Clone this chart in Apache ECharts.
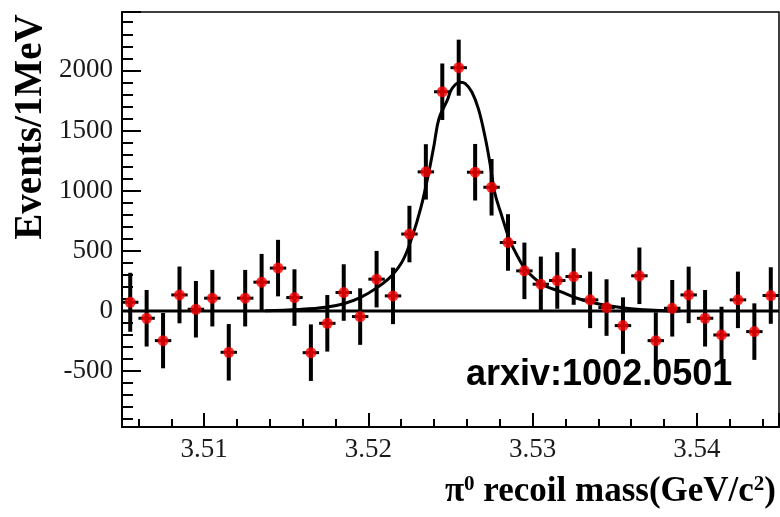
<!DOCTYPE html>
<html>
<head>
<meta charset="utf-8">
<script src="https://cdn.jsdelivr.net/npm/echarts@6/dist/echarts.min.js"></script>
<style>
html,body{margin:0;padding:0;background:#fff;}
#chart{width:780px;height:517px;}
</style>
</head>
<body>
<div id="chart"></div>
<script>
// Bin centres (GeV/c^2), 1 MeV bins
var binCenters = [3.5055,3.5065,3.5075,3.5085,3.5095,3.5105,3.5115,3.5125,3.5135,3.5145,
                  3.5155,3.5165,3.5175,3.5185,3.5195,3.5205,3.5215,3.5225,3.5235,3.5245,
                  3.5255,3.5265,3.5275,3.5285,3.5295,3.5305,3.5315,3.5325,3.5335,3.5345,
                  3.5355,3.5365,3.5375,3.5385,3.5395,3.5405,3.5415,3.5425,3.5435,3.5445];
// Events per 1 MeV
var counts = [72,-61,-247,133,14,106,-344,106,239,356,
              111,-347,-103,153,-47,264,125,639,1156,1822,
              2022,1153,1028,569,333,222,253,286,92,28,
              -122,292,-247,22,133,-61,-200,92,-172,128];
// Statistical errors
var errors = [245,235,230,236,235,235,235,235,235,235,
              235,235,235,235,235,235,235,235,230,235,
              233,235,235,235,235,230,235,235,235,235,
              235,235,235,235,235,235,235,235,235,235];
// Fit curve
var fitX = [3.5137,3.5158,3.5174,3.5185,3.5195,3.5206,3.5214,3.5221,3.5227,3.5232,
            3.5236,3.5240,3.5243,3.5248,3.5251,3.5256,3.5259,3.5263,3.5267,3.5271,
            3.5274,3.5277,3.5281,3.5286,3.5291,3.5296,3.5306,3.5317,3.5327,3.5337,
            3.5347,3.5357,3.5368,3.5381,3.5390];
var fitY = [2,12,30,60,110,200,290,420,630,860,
            1100,1380,1600,1750,1850,1900,1890,1820,1680,1450,
            1230,980,800,590,450,340,220,160,105,68,
            42,22,10,2,0];
var binHalfWidth = 0.0005;
var xRange = [3.505, 3.545];
var yRange = [-965, 2485];
var xTitle = '{b|π}{s|0}{b| recoil mass(GeV/c}{s|2}{b|)}';
var yTitle = 'Events/1MeV';
var watermark = 'arxiv:1002.0501';

var pts = binCenters.map(function(x,i){return [x, counts[i], errors[i]];});
var fit = fitX.map(function(x,i){return [x, fitY[i]];});

var chart = echarts.init(document.getElementById('chart'), null, {renderer:'canvas'});
var serif = 'Liberation Serif';
chart.setOption({
  animation:false,
  backgroundColor:'#fff',
  grid:{left:122, top:12, width:657, height:415, show:true, borderColor:'#000', borderWidth:1.5, backgroundColor:'transparent'},
  xAxis:{
    type:'value', min:xRange[0], max:xRange[1], splitNumber:4,
    axisLine:{onZero:false, lineStyle:{color:'#000', width:2}},
    axisTick:{inside:true, length:14, lineStyle:{color:'#000', width:2}},
    minorTick:{show:true, splitNumber:5, length:8, lineStyle:{color:'#000', width:2}},
    splitLine:{show:false},
    axisLabel:{showMinLabel:false, showMaxLabel:false, margin:9, color:'#1a1a1a', fontFamily:serif, fontSize:27,
      formatter:function(v){return v.toFixed(2);}}
  },
  yAxis:{
    type:'value', min:yRange[0], max:yRange[1], splitNumber:7,
    axisLine:{onZero:false, lineStyle:{color:'#000', width:2}},
    axisTick:{inside:true, length:19, lineStyle:{color:'#000', width:2}},
    minorTick:{show:true, splitNumber:5, length:11, lineStyle:{color:'#000', width:2}},
    splitLine:{show:false},
    axisLabel:{showMinLabel:false, showMaxLabel:false, margin:9, color:'#1a1a1a', fontFamily:serif, fontSize:27,
      formatter:function(v){return String(v);}}
  },
  graphic:[
    {type:'text', x:31, y:127, rotation:Math.PI/2,
     style:{text:yTitle, font:'bold 39px "Liberation Serif"', fill:'#000', align:'center', verticalAlign:'middle'}},
    {type:'text', right:4, top:474,
     style:{text:xTitle, fill:'#000', align:'right',
       rich:{b:{fontFamily:serif, fontWeight:'bold', fontSize:35, fill:'#000'},
             s:{fontFamily:serif, fontWeight:'bold', fontSize:21, fill:'#000', verticalAlign:'top', padding:[0,0,15,0]}}}},
    {type:'text', x:466, y:375,
     style:{text:watermark, font:'bold 36px "Liberation Sans"', fill:'#000', align:'left', verticalAlign:'middle'}, z:100}
  ],
  series:[
    {type:'line', data:[[xRange[0],0],[xRange[1],0]], symbol:'none', lineStyle:{color:'#000', width:3}, z:2, silent:true},
    {type:'line', data:fit, smooth:0.4, symbol:'none', lineStyle:{color:'#000', width:3}, z:3, silent:true},
    {type:'custom', data:pts, z:4, silent:true,
     renderItem:function(params, api){
       var x=api.value(0), y=api.value(1), e=api.value(2);
       var top=api.coord([x,y+e]), bot=api.coord([x,y-e]);
       var l=api.coord([x-binHalfWidth,y]), r=api.coord([x+binHalfWidth,y]);
       return {type:'group', children:[
         {type:'line', shape:{x1:top[0],y1:top[1],x2:bot[0],y2:bot[1]}, style:{stroke:'#000', lineWidth:4}},
         {type:'line', shape:{x1:l[0],y1:l[1],x2:r[0],y2:r[1]}, style:{stroke:'#000', lineWidth:3}}
       ]};
     }},
    {type:'scatter', data:pts.map(function(p){return [p[0],p[1]];}), symbol:'circle', symbolSize:11,
     itemStyle:{color:'#ff0000'}, z:5, silent:true}
  ]
});
</script>
</body>
</html>
